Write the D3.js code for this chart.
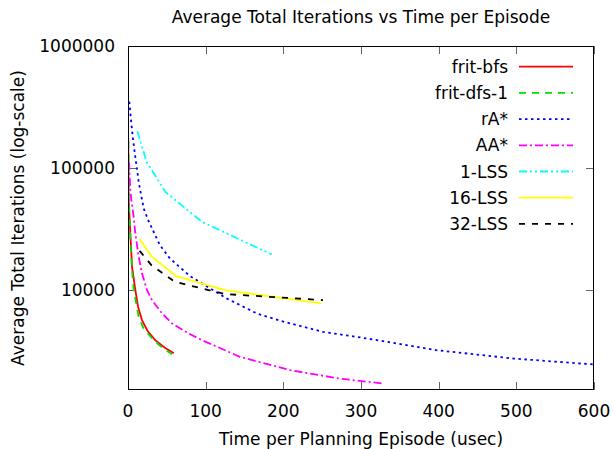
<!DOCTYPE html>
<html>
<head>
<meta charset="utf-8">
<script src="https://cdn.jsdelivr.net/npm/d3@7"></script>
<style>
html,body{margin:0;padding:0;background:#fff;}
svg{display:block;font-family:"DejaVu Sans",sans-serif;}
</style>
</head>
<body>
<svg id="chart" width="614" height="449"></svg>
<script>
// ---- data ----
const seriesNames = ["frit-bfs","frit-dfs-1","rA*","AA*","1-LSS","16-LSS","32-LSS"];
const fritBfs = [[0.3,176000],[0.8,54000],[3,29000],[5.2,15400],[9.4,10000],[13,7200],[18,5620],[25,4600],[35,3850],[47,3350],[59,3000]];
const fritDfs1 = [[0.5,165000],[1,60000],[3,26000],[5,15000],[7.3,10000],[13.7,6000],[20,4800],[33,3850],[45,3300],[56.7,2950]];
const rAstar = [[1.7,349000],[3,280000],[4.3,232000],[6.5,170000],[9.4,123000],[14,75000],[20.2,46400],[26,37200],[41,23200],[54,18000],[80,12900],[127,8470],[166,6370],[196,5550],[251,4500],[299,4050],[335,3720],[397,3185],[496,2720],[600,2430]];
const AAstar = [[1.3,112000],[3,65600],[4.3,54300],[7.3,39600],[9.4,29000],[13.8,18600],[18,13600],[24.5,9900],[30.9,8200],[43.8,6380],[56.7,5280],[78.2,4360],[95.3,3850],[144,2810],[209,2180],[273,1860],[327,1700]];
const lss1 = [[12,200000],[24,112000],[48,63500],[95,36100],[185,19450]];
const lss16 = [[15,26000],[30,18800],[62,12900],[125,9900],[249,7700]];
const lss32 = [[15,20800],[30,15900],[60,11600],[125,9200],[251,8200]];
const xTicks = [0,100,200,300,400,500,600];
const yTicks = [10000,100000,1000000];

const seriesData = [fritBfs, fritDfs1, rAstar, AAstar, lss1, lss16, lss32];
const colors = ["#ff0000","#00e000","#0000ff","#ff00ff","#00ffff","#ffff00","#000000"];
const dashes = [null,"7,6","2.5,3.5","8,3,2,3","8,3,2,3,2,3",null,"6,7"];

// ---- layout ----
const svg = d3.select("#chart");
const L = 128, R = 594, T = 46, B = 390;
const x = d3.scaleLinear().domain([0,600]).range([L,R]);
const y = d3.scaleLog().domain([1500,1000000]).range([B,T]);

svg.append("defs").append("clipPath").attr("id","clip")
  .append("rect").attr("x",L).attr("y",T).attr("width",R-L).attr("height",B-T);

// ticks (gnuplot style: inward, mirrored)
const tickLen = 8;
const ticks = svg.append("g").attr("stroke","#666").attr("stroke-width",1);
xTicks.forEach(v=>{
  const px = Math.round(x(v))+0.5;
  ticks.append("line").attr("x1",px).attr("x2",px).attr("y1",B).attr("y2",B-tickLen);
  ticks.append("line").attr("x1",px).attr("x2",px).attr("y1",T).attr("y2",T+tickLen);
});
yTicks.forEach(v=>{
  const py = Math.round(y(v))+0.5;
  ticks.append("line").attr("x1",L).attr("x2",L+tickLen).attr("y1",py).attr("y2",py);
  ticks.append("line").attr("x1",R).attr("x2",R-tickLen).attr("y1",py).attr("y2",py);
});

// tick labels
const fs = 17;
svg.append("g").selectAll("text").data(xTicks).join("text")
  .attr("x",d=>x(d)).attr("y",B+27).attr("text-anchor","middle")
  .attr("font-size",fs).attr("fill","#000").text(d=>d);
svg.append("g").selectAll("text").data(yTicks).join("text")
  .attr("x",L-13).attr("y",d=>y(d)+6).attr("text-anchor","end")
  .attr("font-size",fs).attr("fill","#000").text(d=>d);

// series
const line = d3.line().x(d=>x(d[0])).y(d=>y(d[1]));
const plot = svg.append("g").attr("clip-path","url(#clip)");
seriesData.forEach((s,i)=>{
  const p = plot.append("path").datum(s).attr("d",line)
    .attr("fill","none").attr("stroke",colors[i]).attr("stroke-width",1.8);
  if (dashes[i]) p.attr("stroke-dasharray",dashes[i]);
});

// border
svg.append("rect").attr("x",L+0.5).attr("y",T+0.5).attr("width",R-L-1).attr("height",B-T-1)
  .attr("fill","none").attr("stroke","#000").attr("stroke-width",1);

// legend
const lg = svg.append("g");
seriesNames.forEach((n,i)=>{
  const ly = 66.7 + i*26.2;
  lg.append("text").attr("x",508).attr("y",ly+6).attr("text-anchor","end")
    .attr("font-size",fs).attr("fill","#000").text(n);
  const l = lg.append("line").attr("x1",519).attr("x2",573).attr("y1",ly).attr("y2",ly)
    .attr("stroke",colors[i]).attr("stroke-width",1.8);
  if (dashes[i]) l.attr("stroke-dasharray",dashes[i]);
});

// titles
svg.append("text").attr("x",(L+R)/2).attr("y",23).attr("text-anchor","middle")
  .attr("font-size",fs).attr("fill","#000").text("Average Total Iterations vs Time per Episode");
svg.append("text").attr("x",(L+R)/2).attr("y",445).attr("text-anchor","middle")
  .attr("font-size",fs).attr("fill","#000").text("Time per Planning Episode (usec)");
svg.append("text").attr("transform",`translate(24,${(T+B)/2}) rotate(-90)`).attr("text-anchor","middle")
  .attr("font-size",fs).attr("fill","#000").text("Average Total Iterations (log-scale)");
</script>
</body>
</html>
